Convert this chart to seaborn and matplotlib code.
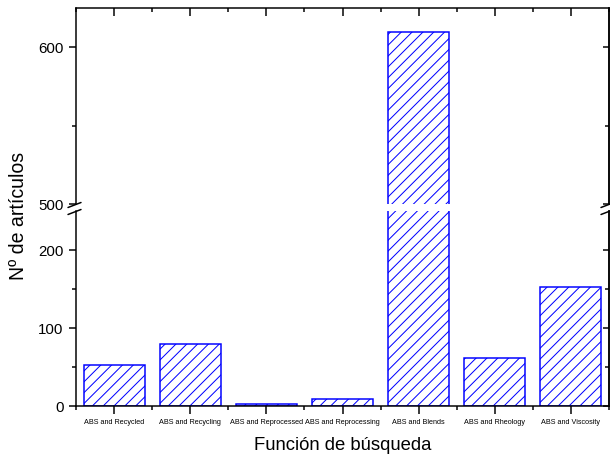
import numpy as np
import matplotlib
matplotlib.use("Agg")
import matplotlib.pyplot as plt
from matplotlib.lines import Line2D
import seaborn as sns
import pandas as pd

# Search strings and number of articles found for each
categories = ["ABS and Recycled", "ABS and Recycling", "ABS and Reprocessed",
              "ABS and Reprocessing", "ABS and Blends", "ABS and Rheology",
              "ABS and Viscosity"]
articles = [52, 80, 2, 9, 610, 61, 153]

# Broken y axis: lower and upper segments
lower_major = [0, 100, 200]
lower_minor = [50, 150]
upper_major = [500, 600]
upper_minor = [550]

DPI = 65
W, H = 610, 457


def pt(px):
    """Convert pixels to points at the figure dpi."""
    return px * 72 / DPI


sns.set_style("ticks")
plt.rcParams["font.family"] = ["Liberation Sans", "DejaVu Sans"]
plt.rcParams["hatch.color"] = "blue"
plt.rcParams["hatch.linewidth"] = pt(1.0)

fig = plt.figure(figsize=(W / DPI, H / DPI), dpi=DPI)
fig.patch.set_facecolor("white")


def px_rect(left, top, right, bottom):
    return [left / W, 1 - bottom / H, (right - left) / W, (bottom - top) / H]


ax_top = fig.add_axes(px_rect(76, 8, 609, 204))
ax_bot = fig.add_axes(px_rect(76, 211, 609, 406))

df = pd.DataFrame({"busqueda": categories, "articulos": articles})

LW = pt(1.5)
for ax in (ax_top, ax_bot):
    sns.barplot(data=df, x="busqueda", y="articulos", ax=ax, color="white",
                edgecolor="blue", hatch="//", linewidth=pt(1.5), width=0.8,
                saturation=1)
    ax.set_xlim(-0.5, len(categories) - 0.5)
    ax.set_xlabel("")
    ax.set_ylabel("")
    ax.set_facecolor("white")
    for s in ax.spines.values():
        s.set_visible(True)
        s.set_linewidth(LW)
        s.set_color("black")
    ax.set_xticks(np.arange(len(categories)))
    ax.set_xticks(np.arange(-0.5, len(categories), 1.0), minor=True)
    ax.tick_params(axis="both", which="major", length=pt(7.5), width=LW,
                   color="black", pad=pt(5))
    ax.tick_params(axis="both", which="minor", length=pt(4), width=LW,
                   color="black")
    ax.tick_params(axis="y", which="both", direction="out", left=True,
                   right=False, labelsize=pt(15), labelcolor="black")

# Upper segment
ax_top.set_ylim(500, 625)
ax_top.set_yticks(upper_major)
ax_top.set_yticks(upper_minor, minor=True)
ax_top.spines["bottom"].set_visible(False)
ax_top.tick_params(axis="x", which="both", bottom=False, labelbottom=False,
                   top=True, labeltop=False, direction="in")

# Lower segment
ax_bot.set_ylim(0, 250)
ax_bot.set_yticks(lower_major)
ax_bot.set_yticks(lower_minor, minor=True)
ax_bot.spines["top"].set_visible(False)
ax_bot.set_xticklabels(categories)
ax_bot.tick_params(axis="x", which="both", bottom=True, top=False,
                   direction="out", labelsize=pt(7.2), labelcolor="black")

# Inward ticks on the right side of both segments
for ax, maj, mnr in ((ax_top, upper_major, upper_minor),
                     (ax_bot, lower_major, lower_minor)):
    sec = ax.secondary_yaxis("right")
    sec.set_yticks(maj)
    sec.set_yticks(mnr, minor=True)
    sec.tick_params(axis="y", which="both", direction="in", width=LW,
                    labelright=False, labelleft=False, color="black")
    sec.tick_params(axis="y", which="major", length=pt(6))
    sec.tick_params(axis="y", which="minor", length=pt(4))
    for s in sec.spines.values():
        s.set_linewidth(LW)
        s.set_color("black")

# Break marks on both spines
for x in (76, 609):
    for y in (204, 211):
        fig.add_artist(Line2D([(x - 8) / W, (x + 5) / W],
                              [1 - (y + 3.5) / H, 1 - (y - 1.5) / H],
                              transform=fig.transFigure, color="black",
                              linewidth=LW, clip_on=False))

fig.text(343 / W, 1 - 446 / H, "Función de búsqueda", ha="center",
         va="center", fontsize=pt(18.5), color="black")
fig.text(19 / W, 1 - 216 / H, "Nº de artículos", ha="center", va="center",
         rotation=90, fontsize=pt(19.5), color="black")

fig.savefig("out.png", dpi=DPI, facecolor="white")
